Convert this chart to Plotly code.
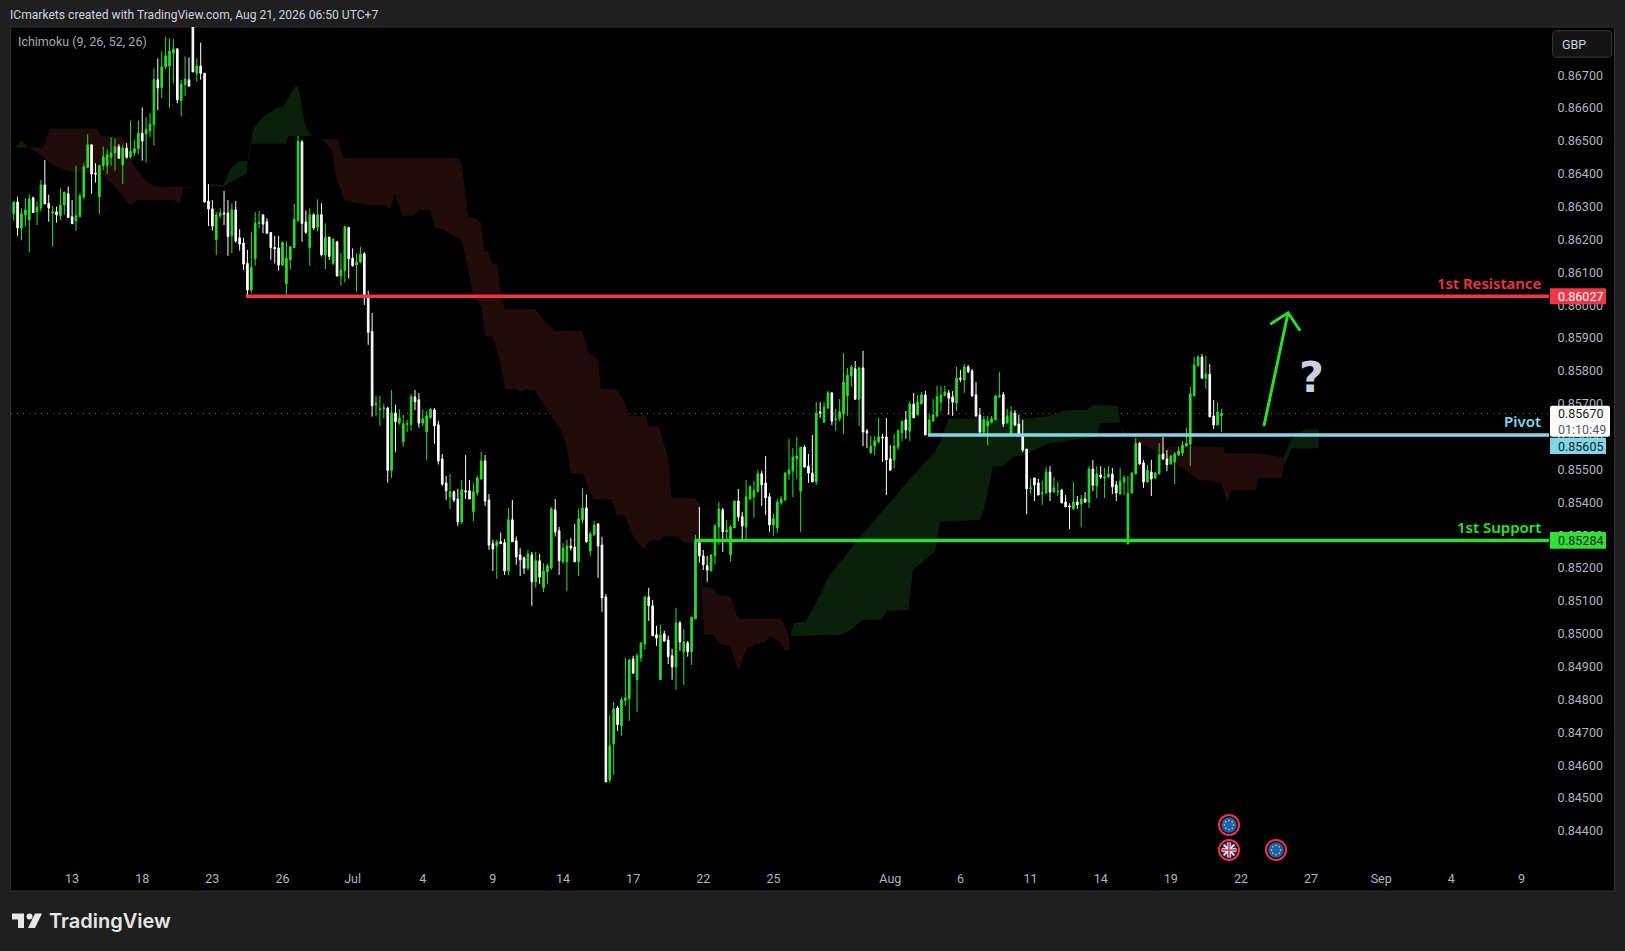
import plotly.graph_objects as go
import math

# ---------- data (prices in 1e-5 units) ----------
opens = [86278,86314,86235,86274,86259,86327,86284,86296,86366,86310,
86280,86284,86272,86305,86339,86269,86257,86269,86329,86419,
86488,86402,86330,86425,86425,86450,86463,86482,86427,86478,
86452,86464,86476,86523,86521,86530,86549,86686,86662,86725,
86728,86767,86780,86623,86671,86686,86860,86706,86728,86706,
86317,86293,86200,86272,86280,86280,86211,86290,86205,86189,
86127,86046,86141,86249,86275,86254,86221,86176,86174,86122,
86065,86138,86175,86257,86497,86253,86175,86275,86237,86275,
86153,86207,86127,86193,86089,86105,86236,86143,86122,86131,
86156,86028,85920,85697,85682,85685,85687,85497,85672,85641,
85584,85637,85637,85721,85712,85641,85614,85657,85681,85636,
85532,85459,85416,85432,85410,85340,85435,85435,85371,85429,
85471,85526,85407,85274,85267,85280,85277,85191,85347,85283,
85240,85231,85200,85240,85158,85222,85140,85188,85200,85377,
85313,85219,85219,85267,85264,85219,85347,85383,85252,85301,
85334,85270,85112,84555,84665,84774,84720,84796,84802,84923,
84860,84927,84969,85112,85085,84997,84860,85000,84981,84933,
84899,85033,84945,84972,84945,85045,85277,85237,85207,85191,
85237,85325,85377,85310,85240,85322,85404,85356,85325,85410,
85417,85432,85487,85459,85417,85331,85322,85398,85407,85486,
85495,85532,85434,85568,85510,85489,85462,85675,85644,85687,
85733,85651,85654,85669,85724,85784,85806,85714,85809,85617,
85550,85571,85584,85599,85599,85532,85529,85568,85611,85651,
85617,85699,85666,85699,85727,85605,85647,85663,85705,85724,
85733,85721,85702,85778,85772,85812,85800,85727,85666,85614,
85632,85644,85651,85721,85727,85641,85608,85672,85638,85605,
85562,85441,85474,85459,85426,85428,85492,85431,85432,85437,
85401,85389,85380,85401,85395,85410,85401,85501,85450,85483,
85474,85477,85486,85453,85425,85462,85273,85428,85486,85580,
85520,85462,85492,85474,85486,85547,85532,85517,85523,85544,
85550,85571,85577,85724,85815,85842,85778,85790,85663,85635,85663]
highs = [86314,86330,86295,86325,86338,86330,86315,86381,86442,86336,
86302,86300,86356,86346,86361,86320,86424,86341,86432,86520,
86488,86432,86427,86483,86474,86511,86507,86490,86488,86493,
86561,86503,86562,86602,86572,86584,86721,86751,86772,86817,
86812,86810,86782,86686,86757,86754,86870,86751,86799,86706,
86369,86320,86284,86295,86348,86320,86310,86317,86231,86205,
86168,86224,86283,86288,86275,86265,86221,86211,86211,86194,
86194,86180,86308,86515,86503,86288,86295,86280,86322,86310,
86249,86207,86203,86193,86158,86241,86239,86173,86158,86178,
86162,86044,85976,85724,85724,85700,85691,85742,85697,85683,
85666,85651,85730,85742,85732,85683,85678,85687,85687,85648,
85547,85480,85487,85436,85441,85468,85544,85468,85458,85482,
85554,85544,85425,85286,85286,85308,85288,85383,85407,85296,
85261,85235,85255,85249,85249,85243,85215,85213,85386,85410,
85325,85276,85286,85292,85334,85380,85443,85423,85310,85343,
85337,85295,85121,84753,84793,84780,84808,84927,84923,84933,
84941,84975,85115,85140,85103,85024,85027,85009,84994,84954,
85079,85039,85015,84978,85051,85301,85386,85255,85237,85240,
85334,85401,85383,85347,85331,85404,85441,85371,85468,85453,
85465,85499,85496,85541,85428,85365,85410,85419,85492,85593,
85565,85599,85568,85574,85547,85605,85705,85705,85705,85739,
85736,85684,85714,85854,85809,85818,85830,85812,85861,85623,
85602,85602,85657,85608,85657,85574,85608,85623,85647,85678,
85708,85733,85727,85736,85739,85669,85714,85754,85754,85754,
85742,85739,85812,85803,85821,85818,85806,85766,85687,85663,
85663,85663,85727,85797,85736,85684,85693,85681,85666,85651,
85562,85471,85474,85471,85465,85507,85510,85477,85462,85441,
85422,85397,85462,85419,85422,85431,85510,85529,85510,85510,
85504,85510,85504,85465,85504,85483,85480,85492,85596,85584,
85529,85514,85529,85492,85580,85599,85559,85544,85553,85568,
85587,85626,85751,85842,85848,85851,85845,85821,85711,85705,85684]
lows = [86257,86211,86197,86239,86160,86280,86244,86285,86308,86254,
86178,86251,86259,86275,86265,86247,86227,86268,86322,86417,
86339,86373,86278,86412,86399,86424,86410,86446,86369,86446,
86446,86454,86460,86440,86434,86511,86486,86594,86630,86718,
86601,86675,86614,86574,86637,86664,86710,86680,86686,86312,
86241,86227,86153,86265,86244,86150,86158,86190,86166,86107,
86028,86036,86120,86234,86219,86216,86138,86127,86105,86120,
86026,86109,86173,86254,86193,86217,86120,86229,86224,86148,
86109,86138,86122,86087,86059,86069,86081,86117,86041,86127,
86001,85879,85661,85661,85633,85656,85460,85474,85552,85636,
85570,85614,85618,85681,85627,85631,85529,85655,85578,85515,
85450,85407,85380,85401,85328,85334,85410,85410,85343,85420,
85468,85389,85255,85191,85167,85274,85179,85179,85280,85210,
85176,85182,85194,85085,85140,85152,85127,85152,85194,85296,
85179,85213,85130,85253,85219,85176,85336,85277,85237,85298,
85170,85067,84549,84546,84571,84704,84689,84780,84735,84878,
84762,84914,84951,85039,84993,84963,84860,84975,84908,84860,
84829,84948,84844,84930,84905,85045,85216,85194,85158,85191,
85210,85270,85249,85286,85219,85322,85343,85283,85286,85407,
85353,85431,85389,85362,85310,85298,85307,85392,85404,85468,
85416,85471,85310,85507,85459,85462,85453,85657,85642,85684,
85635,85617,85647,85608,85663,85752,85711,85632,85571,85565,
85550,85544,85579,85523,85422,85495,85503,85559,85585,85593,
85586,85657,85665,85699,85605,85602,85644,85658,85678,85724,
85666,85663,85678,85766,85733,85794,85721,85660,85602,85605,
85574,85640,85651,85717,85629,85640,85608,85632,85602,85553,
85364,85425,85404,85422,85392,85425,85404,85431,85419,85398,
85386,85319,85377,85380,85325,85398,85383,85434,85413,85471,
85413,85474,85425,85404,85425,85422,85273,85428,85486,85514,
85444,85459,85419,85471,85486,85529,85495,85514,85456,85541,
85541,85569,85510,85721,85815,85775,85745,85660,85623,85635,85614]
closes = [86314,86235,86278,86290,86323,86282,86298,86366,86308,86296,
86284,86275,86305,86343,86267,86248,86272,86332,86421,86488,
86399,86399,86425,86452,86458,86463,86482,86447,86478,86450,
86468,86476,86523,86500,86535,86551,86686,86661,86725,86759,
86774,86780,86625,86673,86688,86667,86710,86728,86706,86314,
86293,86241,86275,86280,86278,86209,86290,86195,86186,86125,
86046,86115,86250,86251,86247,86219,86175,86172,86122,86190,
86143,86178,86262,86498,86249,86222,86275,86235,86275,86153,
86206,86148,86201,86089,86107,86239,86141,86120,86131,86155,
86028,85917,85694,85700,85684,85687,85497,85672,85645,85657,
85639,85639,85721,85706,85641,85654,85663,85683,85633,85526,
85456,85435,85432,85407,85340,85438,85432,85410,85432,85474,
85526,85404,85270,85258,85280,85274,85191,85347,85280,85234,
85225,85200,85243,85158,85222,85173,85191,85207,85380,85310,
85222,85261,85267,85261,85219,85350,85383,85280,85304,85331,
85267,85109,84549,84659,84771,84723,84799,84805,84920,84880,
84933,84972,85112,85085,84994,84987,84997,84978,84930,84899,
85033,84975,84975,84945,85051,85280,85237,85210,85194,85240,
85328,85380,85310,85316,85325,85404,85356,85328,85417,85447,
85435,85487,85453,85414,85331,85350,85401,85409,85489,85498,
85538,85541,85568,85507,85489,85462,85672,85672,85690,85733,
85647,85654,85675,85766,85787,85812,85714,85809,85614,85611,
85571,85587,85599,85596,85529,85498,85571,85617,85647,85620,
85699,85657,85705,85727,85605,85651,85666,85721,85727,85736,
85717,85705,85778,85775,85812,85797,85724,85663,85614,85651,
85647,85654,85724,85724,85638,85663,85675,85635,85602,85559,
85441,85444,85453,85422,85428,85492,85431,85444,85434,85398,
85386,85386,85401,85392,85410,85401,85501,85452,85486,85477,
85477,85486,85447,85428,85465,85474,85428,85489,85580,85517,
85462,85498,85471,85489,85544,85532,85514,85541,85547,85556,
85574,85580,85730,85818,85842,85778,85790,85660,85635,85675,85670]

x_tick_idx = [15,33,51,69,87,105,123,141,159,177,195,225,243,261,279,297,315,333,351,369,387]
x_tick_labels = ["13","18","23","26","Jul","4","9","14","17","22","25","Aug","6","11","14","19","22","27","Sep","4","9"]
y_tick_vals = [0.844 + 0.001 * k for k in range(24)]

red_cloud_1_idx = [4,7.6,9.3,21.3,22.6,27.7,29,30.7,34.1,36.7,48.7,50.4,43.5,42.7,41,32,29.9,26,22.6,14,9.3,7.6]
red_cloud_1_pts = [86480,86480,86538,86538,86515,86513,86493,86427,86376,86361,86359,86361,86356,86308,86320,86320,86305,86361,86399,86407,86432,86452]
green_cloud_1_idx = [0.1,2,3.8]
green_cloud_1_pts = [86480,86501,86480]
green_cloud_2_idx = [50.4,53.8,55.5,57.7,60.2,61.5,64.1,67.5,69.2,72.2,73.1,74.8,76,76,70.5,70.1,60.7,60.2,59.8,53.8,50.4]
green_cloud_2_pts = [86368,86366,86412,86439,86439,86538,86574,86599,86604,86667,86665,86549,86518,86515,86515,86491,86491,86452,86401,86361,86361]
red_cloud_2_idx = [75.2,76.7,76]
red_cloud_2_pts = [86549,86513,86515]
red_cloud_3_idx = [79,83.3,84.6,114.1,115,116.7,118.4,120,120.7,121.8,122.9,124,125,125.9,133.8,136.4,138.9,145.8,147.9,150.1,150.7,154.8,157.3,157.8,162.5,162.9,165.5,168,168.9,174.9,176,176.3,
                   175.3,171.9,170.6,167.2,165.9,163.3,161.8,159,156.9,154.8,153.5,148.8,146,143,141.9,140.2,136.8,133.8,131.2,130,129.1,126.1,124.8,122.9,121,120.1,118,115,112.9,110.3,108.1,106.9,103.9,102.6,99.8,97.9,96.6,95.3,91,87.6,85,82.9,81.6]
red_cloud_3_pts = [86508,86503,86447,86447,86427,86268,86265,86251,86165,86163,86126,86126,86057,85988,85988,85950,85922,85922,85849,85834,85745,85745,85692,85663,85663,85633,85633,85539,85412,85412,85397,85286,
                   85276,85278,85296,85296,85284,85284,85257,85296,85359,85359,85407,85409,85487,85487,85570,85626,85681,85742,85742,85734,85745,85745,85834,85905,85905,85996,86026,86199,86209,86231,86234,86290,86290,86272,86272,86341,86292,86305,86305,86312,86318,86381,86473]
red_cloud_4_idx = [176.3,177,179.6,180.9,183.9,186,196.7,197.6,199.1,199.1,198,196.7,194.2,192.9,190.7,188.2,186,183.9,180.9,179.6,177.2]
red_cloud_4_pts = [85205,85144,85138,85116,85116,85046,85046,85031,84986,84948,84950,84975,84993,84975,84968,84955,84889,84961,84971,84997,84997]
green_cloud_3_idx = [199.3,200.2,203.4,206.1,209.1,217.2,225.8,230.9,236.5,238.2,239.9,260.4,265.1,270.3,275.4,277.1,283.5,284,278.8,278,269.4,265.1,259.6,256.6,254,251.4,249,248,237.8,236.5,230.8,229.7,224.1,222.8,217.7,214.7,212.1]
green_cloud_3_pts = [84993,85033,85038,85097,85173,85295,85412,85483,85554,85595,85654,85656,85661,85681,85681,85696,85694,85643,85640,85600,85585,85577,85544,85539,85510,85510,85377,85346,85341,85250,85194,85072,85070,85043,85041,85009,84996]
red_cloud_5_idx = [284,284.8,294.2,295.5,310.5,310.9,319,325.9,325.9,325.5,319.5,318.9,312.6,311.5,310,307,304.5,300,296,292.5,288,284.8]
red_cloud_5_pts = [85640,85608,85608,85569,85569,85549,85549,85537,85503,85473,85473,85437,85437,85397,85458,85466,85466,85505,85530,85559,85585,85618]
green_cloud_4_idx = [325.9,327.1,328,331.4,335,335,328,326]
green_cloud_4_pts = [85537,85569,85594,85622,85622,85564,85564,85508]

resistance_level = 86027
pivot_level = 85605
support_level = 85284
last_price = 85670
resistance_start = 59.6
pivot_start = 234.7
support_start = 174.7

arrow_stem_idx = [320.9, 327.1]
arrow_stem_pts = [85632, 85977]
arrow_head_idx = [322.5, 327.1, 330.2]
arrow_head_pts = [85942, 85977, 85922]

# ---------- geometry helpers ----------
W, H = 1625, 951
L, R, T, B = 11, 1549, 27, 863
X_MIN, X_MAX = -0.685, 394.07
Y_MIN, Y_MAX = 0.843022, 0.868466

def xp(px):
    return (px - L) / (R - L)

def yp(py):
    return (B - py) / (B - T)

def p(v):
    return v / 1e5

GREEN = "#2bdc2b"
RED = "#f23645"
CYAN = "#7fd8ea"
AXIS_TXT = "#b2b5be"
FONT = "Roboto"
AXIS_SIZE = 12.5

def poly_shape(idx, pts, color):
    path = "M " + " L ".join(f"{i},{p(v):.5f}" for i, v in zip(idx, pts)) + " Z"
    return dict(type="path", path=path, xref="x", yref="y", layer="below",
                fillcolor=color, line=dict(width=0))

def px_rect(x0, y0, x1, y1, fill, line=None, layer="above"):
    return dict(type="rect", xref="paper", yref="paper", x0=xp(x0), x1=xp(x1), y0=yp(y0), y1=yp(y1),
                fillcolor=fill, layer=layer, line=dict(width=1 if line else 0, color=line or fill))

def px_rrect(x0, y0, x1, y1, r, fill, line=None):
    def P(a, b):
        return f"{xp(a):.6f},{yp(b):.6f}"
    d = (f"M {P(x0+r,y0)} L {P(x1-r,y0)} Q {P(x1,y0)} {P(x1,y0+r)} L {P(x1,y1-r)} Q {P(x1,y1)} {P(x1-r,y1)} "
         f"L {P(x0+r,y1)} Q {P(x0,y1)} {P(x0,y1-r)} L {P(x0,y0+r)} Q {P(x0,y0)} {P(x0+r,y0)} Z")
    return dict(type="path", path=d, xref="paper", yref="paper", fillcolor=fill, layer="above",
                line=dict(width=1 if line else 0, color=line or fill))

def px_circle(cx, cy, r, fill, line=None, lw=0):
    return dict(type="circle", xref="paper", yref="paper", x0=xp(cx-r), x1=xp(cx+r), y0=yp(cy-r), y1=yp(cy+r),
                fillcolor=fill, layer="above", line=dict(width=lw, color=line or fill))

def px_line(x0, y0, x1, y1, color, lw):
    return dict(type="line", xref="paper", yref="paper", x0=xp(x0), x1=xp(x1), y0=yp(y0), y1=yp(y1),
                layer="above", line=dict(width=lw, color=color))

def text(px_x, px_y, s, size, color, anchor="left", weight=None, family=FONT):
    f = dict(size=size, color=color, family=family)
    if weight:
        f["weight"] = weight
    return dict(x=xp(px_x), y=yp(px_y), xref="paper", yref="paper", text=s, showarrow=False,
                xanchor=anchor, yanchor="middle", font=f, borderpad=0, borderwidth=0)

# ---------- shapes ----------
RED_FILL = "#210b0b"
GREEN_FILL = "#0a200a"
shapes = [px_rect(10.5, 27, 1614.5, 891, "#000000", "#323232", layer="below")]
for i_, v_, c_ in [(green_cloud_1_idx, green_cloud_1_pts, GREEN_FILL), (red_cloud_1_idx, red_cloud_1_pts, RED_FILL),
                   (green_cloud_2_idx, green_cloud_2_pts, GREEN_FILL), (red_cloud_2_idx, red_cloud_2_pts, RED_FILL),
                   (red_cloud_3_idx, red_cloud_3_pts, RED_FILL), (red_cloud_4_idx, red_cloud_4_pts, RED_FILL),
                   (green_cloud_3_idx, green_cloud_3_pts, GREEN_FILL), (red_cloud_5_idx, red_cloud_5_pts, RED_FILL),
                   (green_cloud_4_idx, green_cloud_4_pts, GREEN_FILL)]:
    shapes.append(poly_shape(i_, v_, c_))
shapes.append(dict(type="line", xref="paper", yref="y", x0=0, x1=1, y0=p(last_price), y1=p(last_price),
                   layer="below", line=dict(color="#6a6a6a", width=1, dash="1px 5px")))

# price boxes
shapes += [
    px_rect(1550, 288.3, 1606, 304.3, RED),
    px_rrect(1550, 405.7, 1610, 436.7, 2, "#ffffff"),
    px_rect(1550, 437.7, 1606, 454, CYAN),
    px_rect(1550, 532, 1606, 548.7, "#2fe22f"),
    px_rrect(1552.7, 30.7, 1611.7, 57.3, 4, "#141414", "#3a3a3a"),
]

# event icons
def eu_icon(cx, cy):
    out = [px_circle(cx, cy, 10, "#000000", RED, 2), px_circle(cx, cy, 7.8, "#1560b8")]
    for k in range(8):
        a = k * math.pi / 4
        out.append(px_circle(cx + 4.6 * math.cos(a), cy + 4.6 * math.sin(a), 0.9, "#d8b830"))
    return out

def uk_icon(cx, cy):
    r = 5.4
    out = [px_circle(cx, cy, 10, "#000000", RED, 2), px_circle(cx, cy, 7.8, "#2b3d85")]
    out += [px_line(cx - r, cy - r, cx + r, cy + r, "#f4f4f4", 1.6), px_line(cx - r, cy + r, cx + r, cy - r, "#f4f4f4", 1.6)]
    out += [px_line(cx - 7.6, cy, cx + 7.6, cy, "#f4f4f4", 3.4), px_line(cx, cy - 7.6, cx, cy + 7.6, "#f4f4f4", 3.4)]
    out += [px_line(cx - 7.6, cy, cx + 7.6, cy, "#e03040", 1.6), px_line(cx, cy - 7.6, cx, cy + 7.6, "#e03040", 1.6)]
    return out

shapes += eu_icon(1229, 825) + uk_icon(1229, 850) + eu_icon(1276, 850)

# logo mark
LOGO = "#e6e6e6"
def P(a, b):
    return f"{xp(a):.6f},{yp(b):.6f}"
shapes += [
    dict(type="path", xref="paper", yref="paper", layer="above", fillcolor=LOGO, line=dict(width=0),
         path=f"M {P(12,913.5)} L {P(24,913.5)} L {P(24,928)} L {P(18,928)} L {P(18,919.5)} L {P(12,919.5)} Z"),
    px_circle(29.5, 916.5, 3, LOGO),
    dict(type="path", xref="paper", yref="paper", layer="above", fillcolor=LOGO, line=dict(width=0),
         path=f"M {P(35,913.5)} L {P(42,913.5)} L {P(35,928)} L {P(28,928)} Z"),
]

# ---------- traces ----------
fig = go.Figure()
fig.add_trace(go.Candlestick(
    x=list(range(len(opens))),
    open=[p(v) for v in opens], high=[p(v) for v in highs],
    low=[p(v) for v in lows], close=[p(v) for v in closes],
    increasing=dict(line=dict(color=GREEN, width=1), fillcolor=GREEN),
    decreasing=dict(line=dict(color="#ffffff", width=1), fillcolor="#ffffff"),
    whiskerwidth=0, hoverinfo="skip", showlegend=False))

for start, lvl, col in [(resistance_start, resistance_level, RED), (pivot_start, pivot_level, CYAN), (support_start, support_level, GREEN)]:
    fig.add_trace(go.Scatter(x=[start, X_MAX], y=[p(lvl), p(lvl)], mode="lines",
                             line=dict(color=col, width=3.5), hoverinfo="skip", showlegend=False))
fig.add_trace(go.Scatter(x=arrow_stem_idx, y=[p(v) for v in arrow_stem_pts], mode="lines",
                         line=dict(color=GREEN, width=3), hoverinfo="skip", showlegend=False))
fig.add_trace(go.Scatter(x=arrow_head_idx, y=[p(v) for v in arrow_head_pts], mode="lines",
                         line=dict(color=GREEN, width=3), hoverinfo="skip", showlegend=False))

annotations = [
    text(10, 14.8, "ICmarkets created with TradingView.com, Aug 21, 2026 06:50 UTC+7", 12.1, "#d1d4dc"),
    text(18, 41.5, "Ichimoku (9, 26, 52, 26)", 12.5, "#a6a9b2"),
    text(1541, 283.5, "1st Resistance", 15, RED, "right", 600, "Noto Sans"),
    text(1541, 421, "Pivot", 15, CYAN, "right", 600, "Noto Sans"),
    text(1541, 527, "1st Support", 15, "#2fe02f", "right", 600, "Noto Sans"),
    text(1558, 296.5, "0.86027", AXIS_SIZE, "#ffffff"),
    text(1558, 414, "0.85670", AXIS_SIZE, "#131722"),
    text(1558, 429, "01:10:49", AXIS_SIZE, "#555a66"),
    text(1558, 446, "0.85605", AXIS_SIZE, "#131722"),
    text(1558, 540.5, "0.85284", AXIS_SIZE, "#131722"),
    text(1562, 44, "GBP", AXIS_SIZE, "#d1d4dc"),
    text(1311.7, 377, "?", 43, "#c8d1dc", "center", 700, "DejaVu Sans"),
    text(49, 920.5, "TradingView", 20, "#e6e6e6", "left", 600, "Inter"),
]

fig.update_layout(
    width=W, height=H, autosize=False,
    margin=dict(l=L, r=W - R, t=T, b=H - B, pad=0),
    paper_bgcolor="#1f1f1f", plot_bgcolor="#000000",
    showlegend=False, hovermode=False, boxgap=0.4,
    shapes=shapes, annotations=annotations,
    font=dict(family=FONT, size=12, color=AXIS_TXT),
    xaxis=dict(range=[X_MIN, X_MAX], tickmode="array", tickvals=x_tick_idx, ticktext=x_tick_labels,
               showgrid=False, zeroline=False, showline=False, ticks="outside", ticklen=4,
               tickcolor="rgba(0,0,0,0)", tickfont=dict(size=AXIS_SIZE, color=AXIS_TXT, family=FONT),
               rangeslider=dict(visible=False), fixedrange=True),
    yaxis=dict(range=[Y_MIN, Y_MAX], side="right", tickmode="array", tickvals=y_tick_vals,
               ticktext=[f"{v:.5f}" for v in y_tick_vals], showgrid=False, zeroline=False, showline=False,
               ticks="outside", ticklen=5, tickcolor="rgba(0,0,0,0)",
               tickfont=dict(size=AXIS_SIZE, color=AXIS_TXT, family=FONT), fixedrange=True),
)

fig.write_html("out.html", config=dict(displayModeBar=False),
               post_script="document.body.style.margin='0';document.body.style.overflow='hidden';document.body.style.background='#1f1f1f';")
